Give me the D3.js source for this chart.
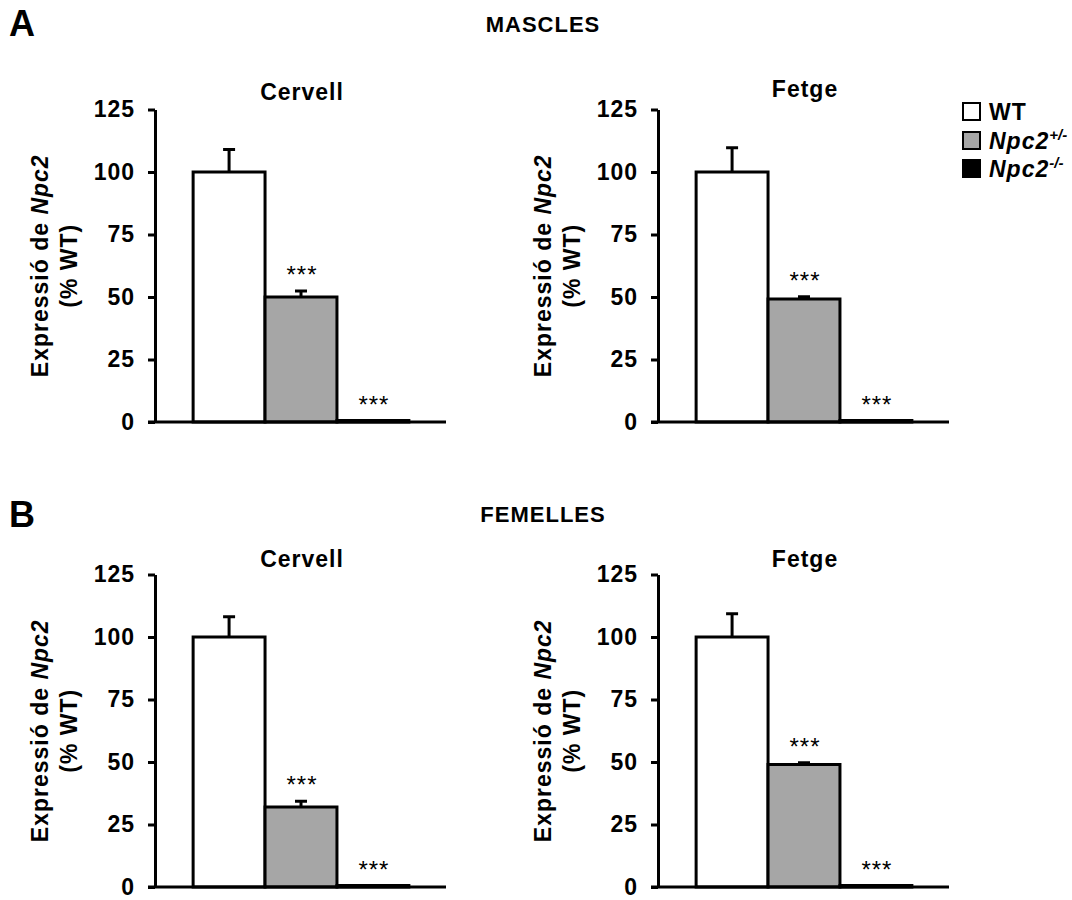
<!DOCTYPE html>
<html>
<head>
<meta charset="utf-8">
<script src="https://cdn.jsdelivr.net/npm/d3@7"></script>
<style>
  body { margin: 0; background: #fff; }
  svg text { font-family: "Liberation Sans", Arial, sans-serif; }
</style>
</head>
<body>
<svg id="chart" width="1072" height="900"></svg>
<script>
// ---- data ----
const groups = ["WT", "Npc2+/-", "Npc2-/-"];
const groupColors = ["#ffffff", "#a6a6a6", "#000000"];
const yTicks = [0, 25, 50, 75, 100, 125];

const maleBrainValues = [100, 50, 0.6];
const maleBrainErrors = [9, 2.4, 0];
const maleLiverValues = [100, 49.2, 0.6];
const maleLiverErrors = [9.7, 0.9, 0];
const femaleBrainValues = [100, 32, 0.6];
const femaleBrainErrors = [8.1, 2.3, 0];
const femaleLiverValues = [100, 49, 0.6];
const femaleLiverErrors = [9.3, 0.7, 0];
const significance = ["", "***", "***"];

const sectionLabels = ["A", "B"];
const sectionTitles = ["MASCLES", "FEMELLES"];
const panelTitles = ["Cervell", "Fetge"];

// ---- drawing ----
const svg = d3.select("#chart");
const FS = 23;
const LS = "1px";

function panel(axisX, y0, title, titleY, values, errors) {
  const y = d3.scaleLinear().domain([0, 125]).range([y0, y0 - 312.5]);
  const x = d3.scaleBand().domain(groups).range([axisX, axisX + 292])
    .paddingInner(0).paddingOuter(0.53);
  const g = svg.append("g");

  // bars
  g.selectAll("rect.bar").data(groups).join("rect")
    .attr("x", d => x(d))
    .attr("y", (d, i) => y(values[i]))
    .attr("width", x.bandwidth())
    .attr("height", (d, i) => y(0) - y(values[i]))
    .attr("fill", (d, i) => groupColors[i])
    .attr("stroke", "#000").attr("stroke-width", 3);

  // error bars (upper only)
  groups.forEach((d, i) => {
    if (errors[i] <= 0) return;
    const cx = x(d) + x.bandwidth() / 2;
    g.append("line").attr("x1", cx).attr("x2", cx)
      .attr("y1", y(values[i])).attr("y2", y(values[i] + errors[i]))
      .attr("stroke", "#000").attr("stroke-width", 3);
    g.append("line").attr("x1", cx - 6).attr("x2", cx + 6)
      .attr("y1", y(values[i] + errors[i])).attr("y2", y(values[i] + errors[i]))
      .attr("stroke", "#000").attr("stroke-width", 3);
  });

  // significance stars
  groups.forEach((d, i) => {
    if (!significance[i]) return;
    const cx = x(d) + x.bandwidth() / 2;
    g.append("text").attr("x", cx + 1).attr("y", y(values[i] + errors[i]) - 8)
      .attr("text-anchor", "middle").attr("font-size", 24)
      .style("letter-spacing", "1px").text(significance[i]);
  });

  // x axis line
  g.append("line").attr("x1", axisX - 7).attr("x2", axisX + 291)
    .attr("y1", y(0)).attr("y2", y(0))
    .attr("stroke", "#000").attr("stroke-width", 3);

  // y axis
  const ax = g.append("g").attr("transform", `translate(${axisX},0)`)
    .call(d3.axisLeft(y).tickValues(yTicks).tickSize(7).tickSizeOuter(0).tickPadding(13));
  ax.select(".domain").attr("stroke", "#000").attr("stroke-width", 3);
  ax.selectAll(".tick line").attr("stroke", "#000").attr("stroke-width", 3);
  ax.selectAll(".tick text").attr("font-size", FS).attr("font-weight", "bold")
    .attr("fill", "#000").style("letter-spacing", LS)
    .attr("font-family", "Liberation Sans, Arial, sans-serif");

  // y label
  const cy = (y(0) + y(125)) / 2;
  const l1 = g.append("text")
    .attr("transform", `translate(${axisX - 107},${cy}) rotate(-90)`)
    .attr("text-anchor", "middle").attr("font-size", FS).attr("font-weight", "bold")
    .style("letter-spacing", LS);
  l1.append("tspan").text("Expressió de ");
  l1.append("tspan").attr("font-style", "italic").text("Npc2");
  g.append("text")
    .attr("transform", `translate(${axisX - 78},${cy}) rotate(-90)`)
    .attr("text-anchor", "middle").attr("font-size", FS).attr("font-weight", "bold")
    .style("letter-spacing", LS).text("(% WT)");

  // panel title
  g.append("text").attr("x", (x.range()[0] + x.range()[1]) / 2 + 1).attr("y", titleY)
    .attr("text-anchor", "middle").attr("font-size", FS).attr("font-weight", "bold")
    .style("letter-spacing", LS).text(title);
}

// section headers
[[36, 32], [527, 522]].forEach((ys, k) => {
  svg.append("text").attr("x", 9).attr("y", ys[0])
    .attr("font-size", 36).attr("font-weight", "bold").text(sectionLabels[k]);
  svg.append("text").attr("x", 543).attr("y", ys[1])
    .attr("text-anchor", "middle").attr("font-size", 22).attr("font-weight", "bold")
    .style("letter-spacing", "1px").text(sectionTitles[k]);
});

panel(155, 422, panelTitles[0], 100, maleBrainValues, maleBrainErrors);
panel(658, 422, panelTitles[1], 97, maleLiverValues, maleLiverErrors);
panel(155, 887, panelTitles[0], 567, femaleBrainValues, femaleBrainErrors);
panel(658, 887, panelTitles[1], 567, femaleLiverValues, femaleLiverErrors);

// legend
const legendY = [103, 132, 160];
const lg = svg.append("g");
groups.forEach((d, i) => {
  lg.append("rect").attr("x", 963).attr("y", legendY[i])
    .attr("width", 17).attr("height", 17)
    .attr("fill", groupColors[i]).attr("stroke", "#000").attr("stroke-width", 2);
  const t = lg.append("text").attr("x", 989).attr("y", legendY[i] + 17)
    .attr("font-size", FS).attr("font-weight", "bold").style("letter-spacing", "1px");
  if (i === 0) {
    t.text(d);
  } else {
    const m = d.match(/^(Npc2)(.*)$/);
    t.append("tspan").attr("font-style", "italic").text(m[1]);
    t.append("tspan").attr("font-style", "italic").attr("font-size", 15)
      .attr("dy", -9).style("letter-spacing", "0px").text(m[2]);
  }
});
</script>
</body>
</html>
